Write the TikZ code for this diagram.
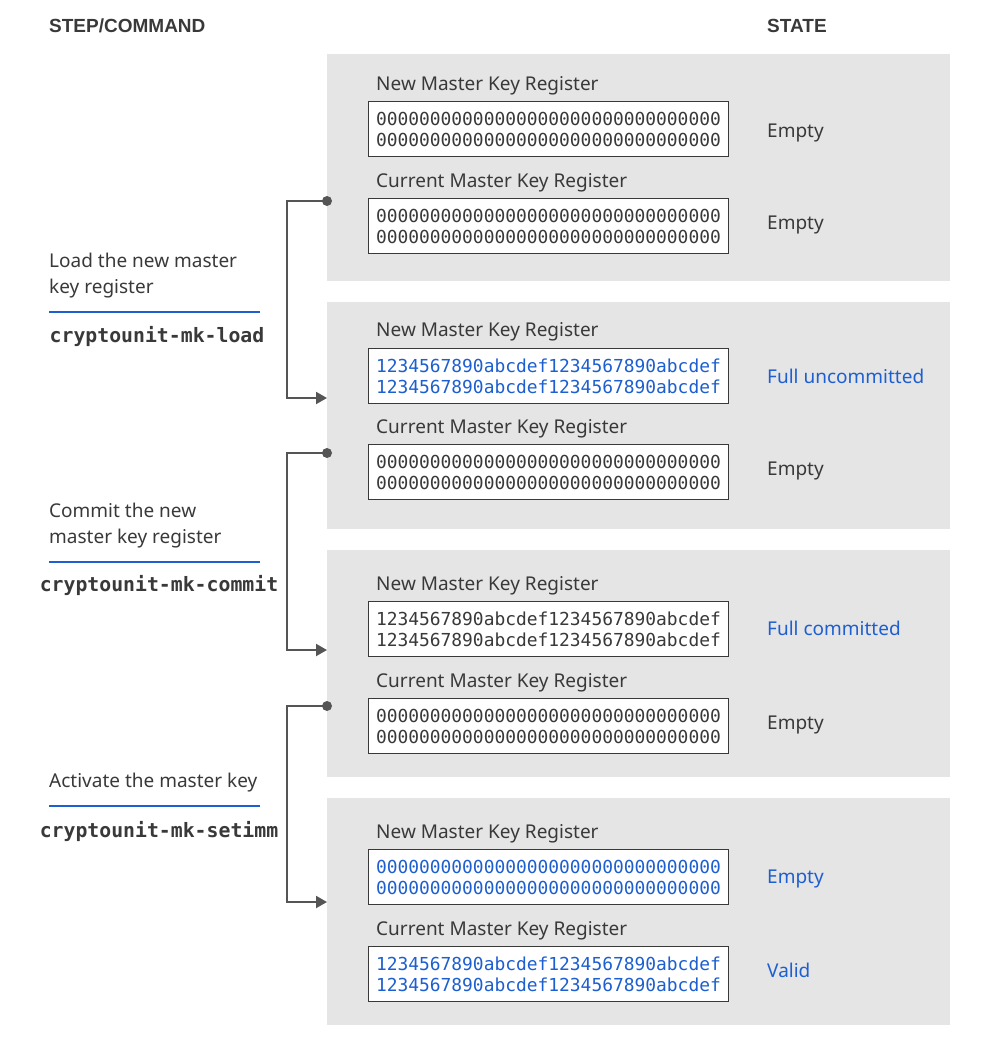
\documentclass[tikz,border=0pt]{standalone}
\usepackage{fontspec}
\setmainfont{Noto Sans}
\setmonofont{DejaVu Sans Mono}
\newfontfamily\headfont{Liberation Sans}
\usetikzlibrary{arrows.meta}

\definecolor{panelgray}{HTML}{E5E5E5}
\definecolor{inkgray}{HTML}{393939}
\definecolor{wiregray}{HTML}{555555}
\definecolor{keyblue}{HTML}{1D5FD0}

\tikzset{
    panel/.style={fill=panelgray, draw=none, anchor=north west, inner sep=0pt,
        minimum width=623pt, minimum height=227pt},
    reglabel/.style={anchor=west, inner sep=0pt, text=inkgray,
        font=\fontsize{19}{22}\selectfont},
    regbox/.style={draw=inkgray, line width=1pt, fill=white, anchor=north west,
        minimum width=360pt, minimum height=55pt, inner xsep=7.5pt, inner ysep=0pt,
        text width=345pt, align=left, text=inkgray,
        font=\fontsize{17.9}{21}\ttfamily},
    statelabel/.style={anchor=west, inner sep=0pt, text=inkgray,
        font=\fontsize{19}{22}\selectfont},
    heading/.style={anchor=west, inner sep=0pt, text=inkgray,
        font=\fontsize{19}{22}\headfont\bfseries},
    steptext/.style={anchor=north west, inner sep=0pt, align=left, text=inkgray,
        font=\fontsize{19}{26}\selectfont},
    cmdtext/.style={inner sep=0pt, text=inkgray,
        font=\fontsize{19.8}{24}\ttfamily\bfseries},
    steprule/.style={draw=keyblue, line width=2.5pt},
    wire/.style={draw=wiregray, line width=2pt},
    wirearrow/.style={wire, -{Triangle[length=11pt,width=12pt]}},
}

\begin{document}
\begin{tikzpicture}[x=1pt, y=-1pt]
    \useasboundingbox (0,0) rectangle (1001,1051);

    \node [heading] (hstep)  at (49,26)  {STEP/COMMAND};
    \node [heading] (hstate) at (767,26) {STATE};

    % state panels
    \node [panel] (pan1) at (327,54)  {};
    \node [panel] (pan2) at (327,302) {};
    \node [panel] (pan3) at (327,550) {};
    \node [panel] (pan4) at (327,798) {};

    % panel 1
    \node [reglabel] (lnew1) at (376,86) {New Master Key Register};
    \node [regbox] (rnew1) at (368,101) {00000000000000000000000000000000\\00000000000000000000000000000000};
    \node [statelabel] (snew1) at (767,133) {Empty};
    \node [reglabel] (lcur1) at (376,183) {Current Master Key Register};
    \node [regbox] (rcur1) at (368,198) {00000000000000000000000000000000\\00000000000000000000000000000000};
    \node [statelabel] (scur1) at (767,225) {Empty};

    % panel 2
    \node [reglabel] (lnew2) at (376,332) {New Master Key Register};
    \node [regbox, text=keyblue] (rnew2) at (368,348) {1234567890abcdef1234567890abcdef\\1234567890abcdef1234567890abcdef};
    \node [statelabel, text=keyblue] (snew2) at (767,376) {Full uncommitted};
    \node [reglabel] (lcur2) at (376,429) {Current Master Key Register};
    \node [regbox] (rcur2) at (368,444) {00000000000000000000000000000000\\00000000000000000000000000000000};
    \node [statelabel] (scur2) at (767,471) {Empty};

    % panel 3
    \node [reglabel] (lnew3) at (376,586) {New Master Key Register};
    \node [regbox] (rnew3) at (368,601) {1234567890abcdef1234567890abcdef\\1234567890abcdef1234567890abcdef};
    \node [statelabel, text=keyblue] (snew3) at (767,628) {Full committed};
    \node [reglabel] (lcur3) at (376,683) {Current Master Key Register};
    \node [regbox] (rcur3) at (368,698) {00000000000000000000000000000000\\00000000000000000000000000000000};
    \node [statelabel] (scur3) at (767,725) {Empty};

    % panel 4
    \node [reglabel] (lnew4) at (376,834) {New Master Key Register};
    \node [regbox, text=keyblue] (rnew4) at (368,849) {00000000000000000000000000000000\\00000000000000000000000000000000};
    \node [statelabel, text=keyblue] (snew4) at (767,879) {Empty};
    \node [reglabel] (lcur4) at (376,931) {Current Master Key Register};
    \node [regbox, text=keyblue] (rcur4) at (368,946) {1234567890abcdef1234567890abcdef\\1234567890abcdef1234567890abcdef};
    \node [statelabel, text=keyblue] (scur4) at (767,970) {Valid};

    % steps
    \node [steptext] (step1) at (49,253) {Load the new master\\key register};
    \draw [steprule] (49,312) -- (260,312);
    \node [cmdtext] (cmd1) at (157,337) {cryptounit-mk-load};

    \node [steptext] (step2) at (49,503) {Commit the new\\master key register};
    \draw [steprule] (49,562) -- (260,562);
    \node [cmdtext] (cmd2) at (159,586) {cryptounit-mk-commit};

    \node [steptext] (step3) at (49,773) {Activate the master key};
    \draw [steprule] (49,806) -- (260,806);
    \node [cmdtext] (cmd3) at (159,832) {cryptounit-mk-setimm};

    % connectors
    \coordinate (from1) at (327,201);
    \coordinate (to1)   at (327,398);
    \coordinate (from2) at (327,453);
    \coordinate (to2)   at (327,650);
    \coordinate (from3) at (327,706);
    \coordinate (to3)   at (327,902);

    \draw [wirearrow] (from1) -- ++(-40,0) |- (to1);
    \draw [wirearrow] (from2) -- ++(-40,0) |- (to2);
    \draw [wirearrow] (from3) -- ++(-40,0) |- (to3);
    \fill [wiregray] (from1) circle (5);
    \fill [wiregray] (from2) circle (5);
    \fill [wiregray] (from3) circle (5);
\end{tikzpicture}
\end{document}
